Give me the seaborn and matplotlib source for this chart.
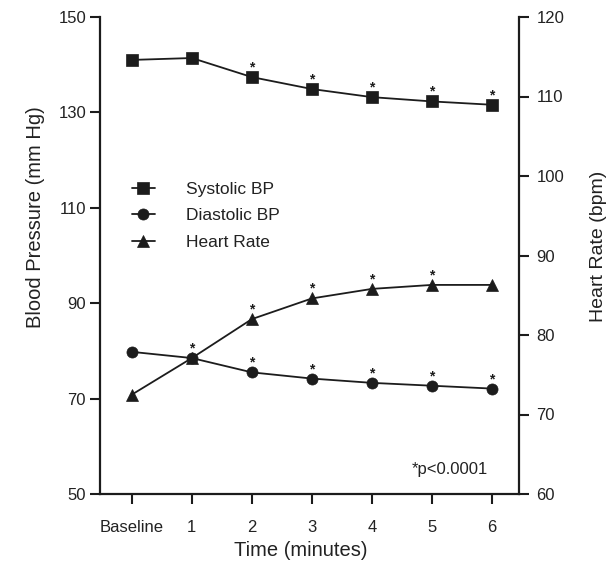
import matplotlib
matplotlib.use('Agg')
import matplotlib.pyplot as plt
import seaborn as sns
import pandas as pd

# ---- data ----
time_labels = ['Baseline', '1', '2', '3', '4', '5', '6']
systolic_bp = [141.0, 141.4, 137.4, 134.9, 133.2, 132.3, 131.6]
diastolic_bp = [79.8, 78.5, 75.5, 74.2, 73.3, 72.7, 72.1]
heart_rate = [72.5, 77.1, 82.0, 84.6, 85.8, 86.3, 86.3]
systolic_sig = [False, False, True, True, True, True, True]
diastolic_sig = [False, False, True, True, True, True, True]
hr_sig = [False, True, True, True, True, True, False]
bp_ticks = [50, 70, 90, 110, 130, 150]
hr_ticks = [60, 70, 80, 90, 100, 110, 120]

sns.set_theme(style='white')
plt.rcParams['font.family'] = ['Liberation Sans', 'DejaVu Sans']

ink = '#1c1c1c'
txt = '#222222'
df = pd.DataFrame({
    'pos': list(range(len(time_labels))),
    'systolic': systolic_bp,
    'diastolic': diastolic_bp,
    'hr': heart_rate,
})

fig = plt.figure(figsize=(6.16, 5.63), dpi=100)
fig.patch.set_facecolor('white')
ax = fig.add_axes([100 / 616, 1 - 494 / 563, 419 / 616, 477 / 563])
ax2 = ax.twinx()

line_kw = dict(color=ink, linewidth=1.3, markersize=8, markeredgecolor=ink,
               markeredgewidth=0.5)
sns.lineplot(data=df, x='pos', y='systolic', marker='s', ax=ax,
             label='Systolic BP', **line_kw)
sns.lineplot(data=df, x='pos', y='diastolic', marker='o', ax=ax,
             label='Diastolic BP', **line_kw)
sns.lineplot(data=df, x='pos', y='hr', marker='^', ax=ax2,
             label='Heart Rate', **line_kw)

# significance asterisks
for series, sig, axis in ((systolic_bp, systolic_sig, ax),
                          (diastolic_bp, diastolic_sig, ax),
                          (heart_rate, hr_sig, ax2)):
    for i, (v, s) in enumerate(zip(series, sig)):
        if s:
            axis.annotate('*', (i, v), xytext=(0, 4.0), textcoords='offset points',
                          ha='center', va='baseline', fontsize=10,
                          fontweight='bold', color=ink)

ax.set_xlim(-0.53, 6.45)
ax.set_ylim(50, 150)
ax2.set_ylim(60, 120)
ax.set_xticks(range(len(time_labels)))
ax.set_xticklabels(time_labels)
ax.set_yticks(bp_ticks)
ax2.set_yticks(hr_ticks)

for a in (ax, ax2):
    a.set_facecolor('none')
    a.spines['top'].set_visible(False)
    for sp in a.spines.values():
        sp.set_color(ink)
        sp.set_linewidth(1.6)
    a.tick_params(colors=ink, labelcolor=txt, labelsize=12,
                  width=1.5, length=7.5, direction='out')
ax.spines['right'].set_visible(False)
ax2.spines['left'].set_visible(False)
ax2.spines['bottom'].set_visible(False)
ax.tick_params(axis='y', left=True, pad=2.5)
ax.tick_params(axis='x', bottom=True, pad=11)
ax2.tick_params(axis='y', right=True, pad=5)

ax.set_xlabel('Time (minutes)', fontsize=14.5, color=txt)
ax.set_ylabel('Blood Pressure (mm Hg)', fontsize=14.5, color=txt)
ax2.set_ylabel('Heart Rate (bpm)', fontsize=14, color=txt)
ax.xaxis.set_label_coords(0.478, -0.099)
ax.yaxis.set_label_coords(-0.132, 0.581)
ax2.yaxis.set_label_coords(1.170, 0.519)

h1, l1 = ax.get_legend_handles_labels()
h2, l2 = ax2.get_legend_handles_labels()
if ax.get_legend():
    ax.get_legend().remove()
ax2.legend(h1 + h2, l1 + l2, loc='upper left', frameon=False, fontsize=12.5,
           bbox_to_anchor=(132 / 616, 1 - 182 / 563), bbox_transform=fig.transFigure,
           borderpad=0, borderaxespad=0, handlelength=1.3, handletextpad=1.8,
           labelspacing=0.64, labelcolor=txt)

ax.text(0.745, 0.042, '*p<0.0001', transform=ax.transAxes, fontsize=12,
        color=txt, ha='left', va='baseline')

fig.savefig('out.png', dpi=100, facecolor='white')
